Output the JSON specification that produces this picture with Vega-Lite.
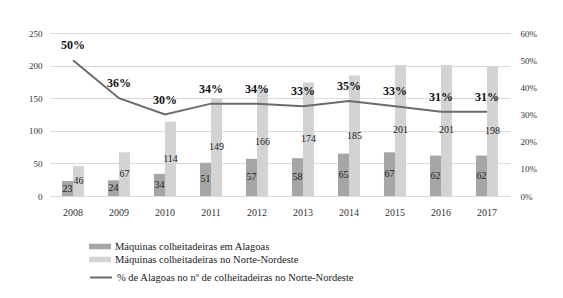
{
  "$schema": "https://vega.github.io/schema/vega-lite/v6.json",
  "autosize": {"type": "none"},
  "padding": {"left": 50, "top": 33, "right": 53, "bottom": 102},
  "width": 460,
  "height": 163,
  "background": "white",
  "config": {
    "font": "Liberation Serif",
    "view": {"stroke": null},
    "axis": {"labelFont": "Liberation Serif", "labelColor": "#333333", "domain": false, "ticks": false, "title": null}
  },
  "datasets": {
    "barras": [
      {"ano": "2008", "serie": "Máquinas colheitadeiras em Alagoas", "valor": 23},
      {"ano": "2008", "serie": "Máquinas colheitadeiras no Norte-Nordeste", "valor": 46},
      {"ano": "2009", "serie": "Máquinas colheitadeiras em Alagoas", "valor": 24},
      {"ano": "2009", "serie": "Máquinas colheitadeiras no Norte-Nordeste", "valor": 67},
      {"ano": "2010", "serie": "Máquinas colheitadeiras em Alagoas", "valor": 34},
      {"ano": "2010", "serie": "Máquinas colheitadeiras no Norte-Nordeste", "valor": 114},
      {"ano": "2011", "serie": "Máquinas colheitadeiras em Alagoas", "valor": 51},
      {"ano": "2011", "serie": "Máquinas colheitadeiras no Norte-Nordeste", "valor": 149},
      {"ano": "2012", "serie": "Máquinas colheitadeiras em Alagoas", "valor": 57},
      {"ano": "2012", "serie": "Máquinas colheitadeiras no Norte-Nordeste", "valor": 166},
      {"ano": "2013", "serie": "Máquinas colheitadeiras em Alagoas", "valor": 58},
      {"ano": "2013", "serie": "Máquinas colheitadeiras no Norte-Nordeste", "valor": 174},
      {"ano": "2014", "serie": "Máquinas colheitadeiras em Alagoas", "valor": 65},
      {"ano": "2014", "serie": "Máquinas colheitadeiras no Norte-Nordeste", "valor": 185},
      {"ano": "2015", "serie": "Máquinas colheitadeiras em Alagoas", "valor": 67},
      {"ano": "2015", "serie": "Máquinas colheitadeiras no Norte-Nordeste", "valor": 201},
      {"ano": "2016", "serie": "Máquinas colheitadeiras em Alagoas", "valor": 62},
      {"ano": "2016", "serie": "Máquinas colheitadeiras no Norte-Nordeste", "valor": 201},
      {"ano": "2017", "serie": "Máquinas colheitadeiras em Alagoas", "valor": 62},
      {"ano": "2017", "serie": "Máquinas colheitadeiras no Norte-Nordeste", "valor": 198}
    ],
    "linha": [
      {"ano": "2008", "serie": "% de Alagoas no nº de colheitadeiras no Norte-Nordeste", "pct": 0.50},
      {"ano": "2009", "serie": "% de Alagoas no nº de colheitadeiras no Norte-Nordeste", "pct": 0.36},
      {"ano": "2010", "serie": "% de Alagoas no nº de colheitadeiras no Norte-Nordeste", "pct": 0.30},
      {"ano": "2011", "serie": "% de Alagoas no nº de colheitadeiras no Norte-Nordeste", "pct": 0.34},
      {"ano": "2012", "serie": "% de Alagoas no nº de colheitadeiras no Norte-Nordeste", "pct": 0.34},
      {"ano": "2013", "serie": "% de Alagoas no nº de colheitadeiras no Norte-Nordeste", "pct": 0.33},
      {"ano": "2014", "serie": "% de Alagoas no nº de colheitadeiras no Norte-Nordeste", "pct": 0.35},
      {"ano": "2015", "serie": "% de Alagoas no nº de colheitadeiras no Norte-Nordeste", "pct": 0.33},
      {"ano": "2016", "serie": "% de Alagoas no nº de colheitadeiras no Norte-Nordeste", "pct": 0.31},
      {"ano": "2017", "serie": "% de Alagoas no nº de colheitadeiras no Norte-Nordeste", "pct": 0.31}
    ]
  },
  "layer": [
    {
      "data": {"name": "barras"},
      "mark": {"type": "bar"},
      "encoding": {
        "x": {
          "field": "ano", "type": "nominal", "title": null,
          "scale": {"paddingInner": 0.52, "paddingOuter": 0.26},
          "axis": {"labelAngle": 0, "labelFontSize": 10, "labelPadding": 11, "labelFont": "Liberation Serif"}
        },
        "xOffset": {"field": "serie", "type": "nominal"},
        "y": {
          "field": "valor", "type": "quantitative",
          "scale": {"domain": [0, 250], "nice": false},
          "axis": {"orient": "left", "values": [0, 50, 100, 150, 200, 250], "labelFontSize": 9, "labelPadding": 8, "gridColor": "#dadada", "gridWidth": 1, "labelFont": "Liberation Serif"}
        },
        "color": {
          "field": "serie", "type": "nominal",
          "scale": {
            "domain": ["Máquinas colheitadeiras em Alagoas", "Máquinas colheitadeiras no Norte-Nordeste"],
            "range": ["#a6a6a6", "#d3d3d3"]
          },
          "legend": {
            "title": null,
            "orient": "none",
            "legendX": 44.5,
            "legendY": 208,
            "direction": "vertical",
            "padding": 0,
            "symbolType": "M-2,-0.5H2V0.5H-2Z",
            "symbolSize": 121,
            "symbolStrokeWidth": 0,
            "labelOffset": 9.5,
            "rowPadding": 2,
            "labelFont": "Liberation Serif",
            "labelFontSize": 10.5,
            "labelColor": "#222222",
            "labelLimit": 400
          }
        }
      }
    },
    {
      "data": {"name": "linha"},
      "mark": {"type": "line", "strokeWidth": 2},
      "encoding": {
        "x": {"field": "ano", "type": "nominal"},
        "y": {
          "field": "pct", "type": "quantitative",
          "scale": {"domain": [0, 0.6], "nice": false},
          "axis": {"orient": "right", "values": [0, 0.1, 0.2, 0.3, 0.4, 0.5, 0.6], "format": ".0%", "grid": false, "labelFontSize": 9, "labelPadding": 10, "labelFont": "Liberation Serif"}
        },
        "stroke": {
          "field": "serie", "type": "nominal",
          "scale": {"domain": ["% de Alagoas no nº de colheitadeiras no Norte-Nordeste"], "range": ["#6b6b6b"]},
          "legend": {
            "title": null,
            "orient": "none",
            "legendX": 44.5,
            "legendY": 238,
            "direction": "vertical",
            "padding": 0,
            "symbolType": "M-2,0H2",
            "symbolSize": 121,
            "symbolStrokeWidth": 2,
            "labelOffset": 9.5,
            "labelFont": "Liberation Serif",
            "labelFontSize": 10.5,
            "labelColor": "#222222",
            "labelLimit": 400
          }
        }
      }
    },
    {
      "data": {"name": "linha"},
      "mark": {"type": "text", "dy": -15, "fontSize": 12, "fontWeight": "bold", "color": "#111111", "font": "Liberation Serif"},
      "encoding": {
        "x": {"field": "ano", "type": "nominal"},
        "y": {"field": "pct", "type": "quantitative", "scale": {"domain": [0, 0.6], "nice": false}, "axis": null},
        "text": {"field": "pct", "type": "quantitative", "format": ".0%"}
      }
    },
    {
      "data": {"name": "barras"},
      "mark": {"type": "text", "fontSize": 10, "color": "#222222", "font": "Liberation Serif", "baseline": "middle"},
      "encoding": {
        "x": {"field": "ano", "type": "nominal"},
        "xOffset": {"field": "serie", "type": "nominal"},
        "y": {"field": "valor", "type": "quantitative", "scale": {"domain": [0, 500], "nice": false}, "axis": null},
        "text": {"field": "valor", "type": "quantitative"}
      }
    }
  ],
  "resolve": {"scale": {"y": "independent"}}
}
